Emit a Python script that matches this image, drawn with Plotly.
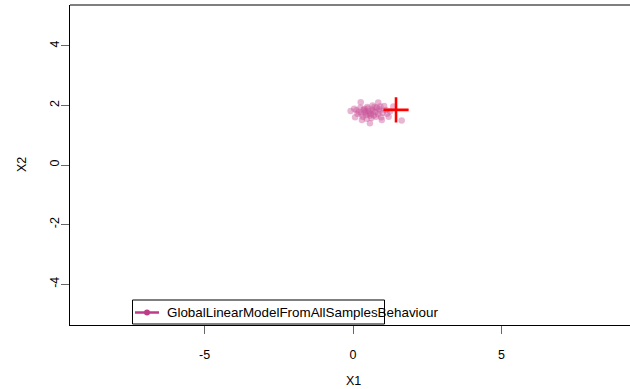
import plotly.graph_objects as go

# Sample behaviour points
x1 = [0.26, 0.85, 0.04, -0.08, 0.07, 0.30, 0.57, 0.97, 1.64, 1.36, 1.05, 1.20,
      0.20, 0.28, 0.35, 0.40, 0.45, 0.50, 0.55, 0.60, 0.65, 0.70, 0.75, 0.80,
      0.85, 0.90, 0.95, 1.00, 1.10, 0.15, 0.33, 0.48, 0.62, 0.72, 0.38, 0.88,
      0.52, 0.25, 0.68, 1.15, 0.78, 0.42, 0.58, 0.92, 1.25, 0.12, 0.66, 0.46]
x2 = [2.11, 2.10, 1.89, 1.81, 1.60, 1.51, 1.40, 1.51, 1.49, 1.96, 1.98, 1.62,
      1.78, 1.70, 1.85, 1.76, 1.68, 1.90, 1.80, 1.72, 1.86, 1.66, 1.78, 1.92,
      1.70, 1.82, 1.60, 1.75, 1.85, 1.72, 1.62, 1.95, 1.58, 1.95, 1.88, 1.88,
      1.74, 1.92, 1.80, 1.72, 1.62, 1.80, 1.66, 1.96, 1.80, 1.84, 2.00, 1.55]

# Model centre
centre_x1 = [1.45]
centre_x2 = [1.85]

series_name = "GlobalLinearModelFromAllSamplesBehaviour"
x_ticks = [-5, 0, 5]
y_ticks = [-4, -2, 0, 2, 4]

pt_color = "rgba(200,80,150,0.42)"
line_color = "rgb(190,60,135)"
font = dict(family="Liberation Sans, Arial, sans-serif", size=12.5, color="black")
legend_font = dict(family="Liberation Sans, Arial, sans-serif", size=13.4, color="black")

fig = go.Figure()
fig.add_trace(go.Scatter(
    x=x1, y=x2, mode="markers",
    marker=dict(size=6.5, color=pt_color, line=dict(width=0)),
    showlegend=False, hoverinfo="skip"))
fig.add_trace(go.Scatter(
    x=centre_x1, y=centre_x2, mode="markers",
    marker=dict(symbol="cross-thin", size=18, line=dict(width=2.6, color="red")),
    showlegend=False, hoverinfo="skip"))

# Plot box top edge
fig.add_shape(type="line", xref="paper", yref="paper", x0=0, x1=1, y0=1, y1=1,
              line=dict(color="black", width=1))

# Legend box drawn by hand (R-style)
W, H = 630, 389
ml, mt, mb = 70, 5, 64
pw, ph = W - ml, H - mt - mb

def px(xp):
    return (xp - ml) / pw

def py(yp):
    return (H - mb - yp) / ph

fig.add_shape(type="rect", xref="paper", yref="paper",
              x0=px(132.5), x1=px(384.5), y0=py(324), y1=py(300),
              line=dict(color="black", width=1), fillcolor="white")
fig.add_shape(type="line", xref="paper", yref="paper",
              x0=px(135), x1=px(159), y0=py(312.5), y1=py(312.5),
              line=dict(color=line_color, width=2.5))
fig.add_shape(type="circle", xref="paper", yref="paper",
              x0=px(144), x1=px(150), y0=py(315.5), y1=py(309.5),
              line=dict(color=line_color, width=0), fillcolor=line_color)
fig.add_annotation(text=series_name, xref="paper", yref="paper",
                   x=px(165), y=py(312.5), xanchor="left", yanchor="middle",
                   showarrow=False, font=legend_font)

# Axis titles
fig.add_annotation(text="X1", xref="paper", yref="paper",
                   x=px(353), y=py(381), xanchor="center", yanchor="middle",
                   showarrow=False, font=font)
fig.add_annotation(text="X2", xref="paper", yref="paper",
                   x=px(22), y=py(165), xanchor="center", yanchor="middle",
                   textangle=-90, showarrow=False, font=font)

fig.update_layout(
    width=W, height=H,
    margin=dict(l=ml, r=0, t=mt, b=mb),
    plot_bgcolor="white", paper_bgcolor="white",
    font=font, showlegend=False,
)
fig.update_xaxes(range=[-9.535, 9.333], tickvals=x_ticks, ticktext=[str(v) for v in x_ticks],
                 showgrid=False, zeroline=False, showline=True, linecolor="black", linewidth=1,
                 ticks="outside", ticklen=8, tickcolor="#666", ticklabelstandoff=10)
fig.update_yaxes(range=[-5.37, 5.37], tickvals=y_ticks, ticktext=[str(v) for v in y_ticks],
                 showgrid=False, zeroline=False, showline=True, linecolor="black", linewidth=1,
                 ticks="outside", ticklen=8, tickcolor="#666", tickangle=-90,
                 ticklabelstandoff=-3)

fig.write_html("out.html")
